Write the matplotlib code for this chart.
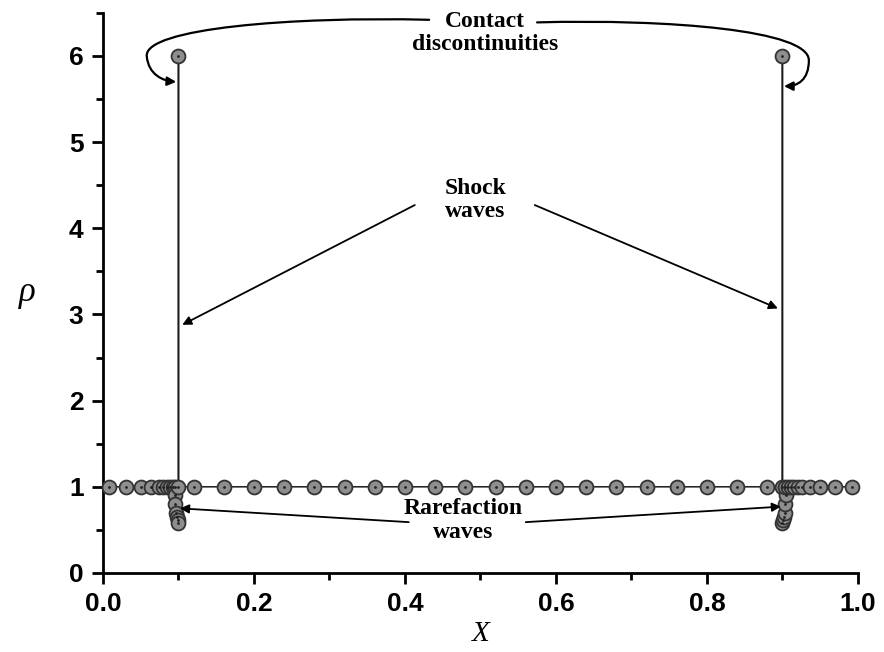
import numpy as np
import matplotlib
matplotlib.use("Agg")
import matplotlib.pyplot as plt
from matplotlib.path import Path
from matplotlib.patches import FancyArrowPatch

# density profile (markers as drawn)
x_left = [0.008, 0.03, 0.05, 0.063, 0.074, 0.080, 0.085, 0.089, 0.093, 0.096,
          0.095, 0.096, 0.097, 0.098, 0.099, 0.1,
          0.1, 0.1]
rho_left = [1.0, 1.0, 1.0, 1.0, 1.0, 1.0, 1.0, 1.0, 1.0, 1.0,
            0.9, 0.8, 0.7, 0.65, 0.62, 0.58,
            6.0, 1.0]
x_mid = [0.12, 0.16, 0.20, 0.24, 0.28, 0.32, 0.36, 0.40, 0.44, 0.48, 0.52,
         0.56, 0.60, 0.64, 0.68, 0.72, 0.76, 0.80, 0.84, 0.88]
rho_mid = [1.0] * len(x_mid)
x_right = [0.9, 0.9,
           0.9, 0.901, 0.902, 0.903, 0.904, 0.905,
           0.904, 0.907, 0.911, 0.915, 0.920, 0.926, 0.937, 0.95, 0.97, 0.992]
rho_right = [1.0, 6.0,
             0.58, 0.62, 0.65, 0.7, 0.8, 0.9,
             1.0, 1.0, 1.0, 1.0, 1.0, 1.0, 1.0, 1.0, 1.0, 1.0]

x_ticks = [0.0, 0.2, 0.4, 0.6, 0.8, 1.0]
y_ticks = [0, 1, 2, 3, 4, 5, 6]

serif = "Liberation Serif"
sans = "Liberation Sans"


def curve_arrow(ax, verts):
    codes = [Path.MOVETO] + [Path.CURVE4] * (len(verts) - 1)
    p = FancyArrowPatch(path=Path(verts, codes), arrowstyle="-|>", mutation_scale=13,
                        lw=1.6, color="k", shrinkA=0, shrinkB=0, clip_on=False)
    ax.add_patch(p)


def straight_arrow(ax, tip, start):
    ax.annotate("", xy=tip, xytext=start,
                arrowprops=dict(arrowstyle="-|>", lw=1.3, color="k", shrinkA=0,
                                shrinkB=0, mutation_scale=13))


def main():
    x = np.array(x_left + x_mid + x_right)
    rho = np.array(rho_left + rho_mid + rho_right)

    fig = plt.figure(figsize=(8.84, 6.52), dpi=100)
    ax = fig.add_axes([0.1165, 0.1212, 0.854, 0.859])

    ax.plot(x, rho, color="#1a1a1a", lw=1.1, marker="o", markersize=10,
            markerfacecolor="#8e8e8e", markeredgecolor="#333333", markeredgewidth=1.3,
            clip_on=False, zorder=3)
    ax.plot(x, rho, ls="none", marker=".", markersize=2, color="#222222",
            clip_on=False, zorder=4)

    ax.set_xlim(0, 1.0)
    ax.set_ylim(0, 6.5)
    ax.set_xticks(x_ticks)
    ax.set_xticklabels([f"{v:.1f}" for v in x_ticks])
    ax.set_xticks(np.arange(0.1, 1.0, 0.2), minor=True)
    ax.set_yticks(y_ticks)
    ax.set_yticks(np.arange(0.5, 6.6, 1.0), minor=True)

    for s in ["top", "right"]:
        ax.spines[s].set_visible(False)
    for s in ["left", "bottom"]:
        ax.spines[s].set_linewidth(2)

    ax.tick_params(which="major", direction="out", length=8, width=2, pad=6)
    ax.tick_params(which="minor", direction="out", length=5, width=2)
    for lab in ax.get_xticklabels() + ax.get_yticklabels():
        lab.set_fontfamily(sans)
        lab.set_fontweight("bold")
        lab.set_fontsize(19)

    ax.set_xlabel("X", fontfamily=serif, fontstyle="italic", fontsize=21, labelpad=3)
    ax.set_ylabel("\u03c1", fontfamily=serif, fontstyle="italic", fontsize=25,
                  rotation=0, labelpad=30, va="center")

    tkw = dict(fontfamily=serif, fontweight="bold", fontsize=17, ha="center",
               va="center", linespacing=1.15)
    ax.text(0.506, 6.27, "Contact\ndiscontinuities", clip_on=False, **tkw)
    ax.text(0.493, 4.33, "Shock\nwaves", **tkw)
    ax.text(0.477, 0.61, "Rarefaction\nwaves", **tkw)

    curve_arrow(ax, [(0.432, 6.42), (0.25, 6.46), (0.055, 6.32), (0.058, 6.0),
                     (0.06, 5.78), (0.08, 5.71), (0.097, 5.70)])
    curve_arrow(ax, [(0.575, 6.39), (0.75, 6.43), (0.935, 6.3), (0.935, 5.95),
                     (0.935, 5.72), (0.92, 5.65), (0.902, 5.65)])

    straight_arrow(ax, (0.105, 2.88), (0.413, 4.27))
    straight_arrow(ax, (0.894, 3.07), (0.572, 4.27))
    straight_arrow(ax, (0.102, 0.75), (0.405, 0.59))
    straight_arrow(ax, (0.898, 0.77), (0.56, 0.59))

    fig.savefig("out.png", dpi=100)
    plt.close(fig)


if __name__ == "__main__":
    main()
